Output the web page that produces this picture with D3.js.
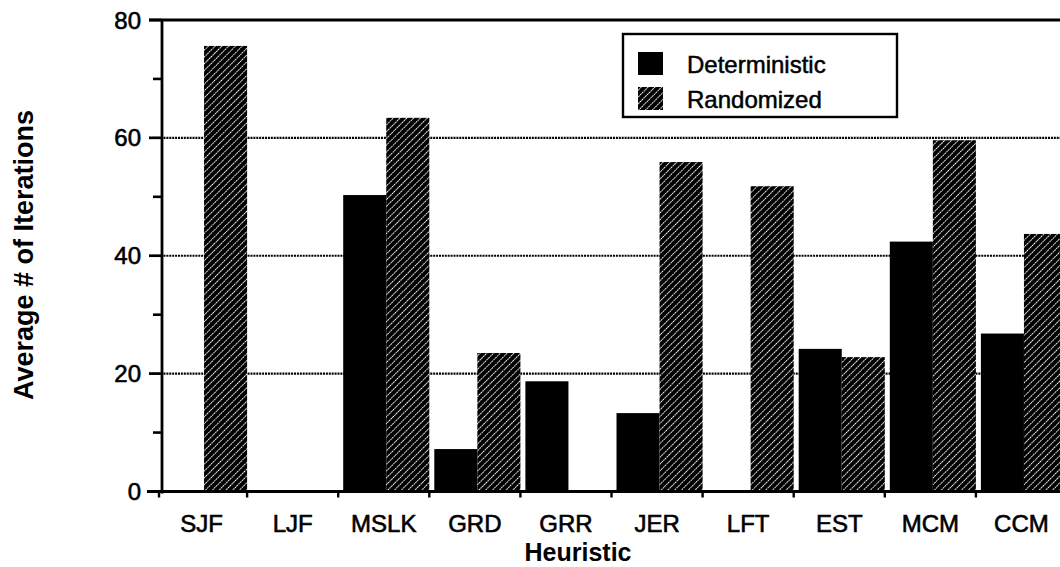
<!DOCTYPE html>
<html>
<head>
<meta charset="utf-8">
<script src="https://cdn.jsdelivr.net/npm/d3@7"></script>
<style>
  html, body { margin: 0; padding: 0; background: #fff; }
  svg { display: block; }
  text { font-family: "Liberation Sans", Arial, Helvetica, sans-serif; fill: #000; }
</style>
</head>
<body>
<svg id="chart" width="1060" height="567"></svg>
<script>
// Heuristics compared on the x axis
const categories = ["SJF", "LJF", "MSLK", "GRD", "GRR", "JER", "LFT", "EST", "MCM", "CCM"];
// Average number of iterations per heuristic
const deterministic = [0, 0, 50.3, 7.2, 18.7, 13.3, 0, 24.2, 42.4, 26.8];
const randomized    = [75.6, 0, 63.4, 23.5, 0, 55.9, 51.8, 22.8, 59.6, 43.7];
const seriesNames = ["Deterministic", "Randomized"];
const yTicks = [0, 20, 40, 60, 80];
const yMinorTicks = [10, 30, 50, 70];
const gridValues = [20, 40, 60];

const svg = d3.select("#chart");
const W = 1060, H = 567;

// hatch fill for the randomized series: black with thin white "/" strokes
const defs = svg.append("defs");
const pat = defs.append("pattern")
  .attr("id", "hatch")
  .attr("patternUnits", "userSpaceOnUse")
  .attr("width", 4.8).attr("height", 10)
  .attr("patternTransform", "rotate(45)");
pat.append("rect").attr("width", 4.8).attr("height", 10).attr("fill", "#000");
pat.append("line")
  .attr("x1", 2.4).attr("y1", 0).attr("x2", 2.4).attr("y2", 10)
  .attr("stroke", "#fff").attr("stroke-width", 1.0)
  .attr("stroke-dasharray", "1.8 0.7");

const fills = { Deterministic: "#000", Randomized: "url(#hatch)" };

const axisX = 162;       // y axis position
const x = d3.scaleBand().domain(categories).range([156, 1067]).paddingInner(0).paddingOuter(0);
const xSub = d3.scaleBand().domain(seriesNames).range([5, x.bandwidth()]).padding(0);
const y = d3.scaleLinear().domain([0, 80]).range([491.5, 20]);

// dotted horizontal grid lines
svg.append("g").selectAll("line").data(gridValues).join("line")
  .attr("x1", 149).attr("x2", W)
  .attr("y1", d => y(d)).attr("y2", d => y(d))
  .attr("stroke", "#000").attr("stroke-width", 2.2)
  .attr("stroke-dasharray", "2 0.9");

// solid top frame line at the axis maximum
svg.append("line")
  .attr("x1", 149).attr("x2", W)
  .attr("y1", y(80)).attr("y2", y(80))
  .attr("stroke", "#000").attr("stroke-width", 2.8);

// bars
const rows = categories.map((c, i) => ({ cat: c, vals: [
  { s: "Deterministic", v: deterministic[i] },
  { s: "Randomized", v: randomized[i] }
]}));

const groups = svg.append("g").selectAll("g").data(rows).join("g")
  .attr("transform", d => `translate(${x(d.cat)},0)`);
groups.selectAll("rect").data(d => d.vals.filter(e => e.v > 0)).join("rect")
  .attr("x", d => xSub(d.s))
  .attr("width", xSub.bandwidth())
  .attr("y", d => y(d.v))
  .attr("height", d => y(0) - y(d.v))
  .attr("fill", d => fills[d.s]);

// x axis line and boundary ticks
svg.append("line")
  .attr("x1", 147).attr("x2", W)
  .attr("y1", y(0)).attr("y2", y(0))
  .attr("stroke", "#000").attr("stroke-width", 2.8);
svg.append("g").selectAll("line").data(categories).join("line")
  .attr("x1", d => x(d) + (d === categories[0] ? 3 : 0))
  .attr("x2", d => x(d) + (d === categories[0] ? 3 : 0))
  .attr("y1", y(0)).attr("y2", y(0) + 6)
  .attr("stroke", "#000").attr("stroke-width", 2.4);

// category labels
svg.append("g").selectAll("text").data(categories).join("text")
  .attr("x", d => x(d) + x.bandwidth() / 2)
  .attr("y", 532)
  .attr("text-anchor", "middle")
  .attr("font-size", 24)
  .attr("stroke", "#000").attr("stroke-width", 0.6)
  .text(d => d);

// y axis
svg.append("line")
  .attr("x1", axisX).attr("x2", axisX)
  .attr("y1", y(80) - 1).attr("y2", y(0) + 2)
  .attr("stroke", "#000").attr("stroke-width", 2.8);
svg.append("g").selectAll("line").data(yTicks).join("line")
  .attr("x1", 149).attr("x2", axisX)
  .attr("y1", d => y(d)).attr("y2", d => y(d))
  .attr("stroke", "#000").attr("stroke-width", 2.6);
svg.append("g").selectAll("line").data(yMinorTicks).join("line")
  .attr("x1", 153).attr("x2", axisX)
  .attr("y1", d => y(d)).attr("y2", d => y(d))
  .attr("stroke", "#000").attr("stroke-width", 2.6);
svg.append("g").selectAll("text").data(yTicks).join("text")
  .attr("x", 141)
  .attr("y", d => y(d) + 8.6)
  .attr("text-anchor", "end")
  .attr("font-size", 24)
  .attr("stroke", "#000").attr("stroke-width", 0.6)
  .text(d => d);

// axis titles
svg.append("text")
  .attr("transform", "translate(33,255) rotate(-90)")
  .attr("text-anchor", "middle")
  .attr("font-size", 27)
  .attr("font-weight", "bold")
  .text("Average # of Iterations");
svg.append("text")
  .attr("x", 578).attr("y", 561)
  .attr("text-anchor", "middle")
  .attr("font-size", 25)
  .attr("font-weight", "bold")
  .text("Heuristic");

// legend
const legend = svg.append("g").attr("transform", "translate(623,34)");
legend.append("rect")
  .attr("width", 274).attr("height", 83)
  .attr("fill", "#fff").attr("stroke", "#000").attr("stroke-width", 2.4);
const li = legend.selectAll("g").data(seriesNames).join("g")
  .attr("transform", (d, i) => `translate(15,${18 + i * 35})`);
li.append("rect").attr("width", 25).attr("height", 23).attr("fill", d => fills[d]);
li.append("text")
  .attr("x", 49).attr("y", 21)
  .attr("font-size", 24)
  .attr("stroke", "#000").attr("stroke-width", 0.5)
  .text(d => d);
</script>
</body>
</html>
